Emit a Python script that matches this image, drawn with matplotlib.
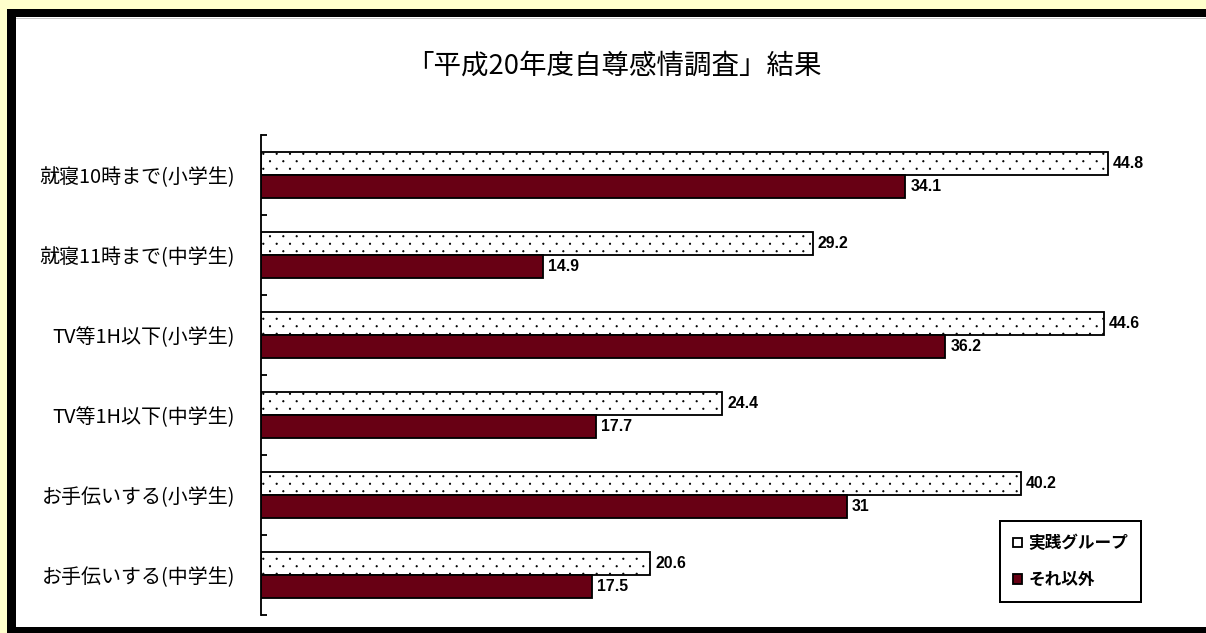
import matplotlib
matplotlib.use("Agg")
import matplotlib.pyplot as plt
import matplotlib.hatch as mhatch
from matplotlib.path import Path
from matplotlib.patches import Rectangle
import numpy as np

plt.rcParams['font.family'] = ['Noto Sans CJK JP', 'DejaVu Sans']
plt.rcParams['hatch.linewidth'] = 0.5

title = "「平成20年度自尊感情調査」結果"
categories = ["就寝10時まで(小学生)", "就寝11時まで(中学生)", "TV等1H以下(小学生)",
              "TV等1H以下(中学生)", "お手伝いする(小学生)", "お手伝いする(中学生)"]
series_names = ["実践グループ", "それ以外"]
practice = [44.8, 29.2, 44.6, 24.4, 40.2, 20.6]
others = [34.1, 14.9, 36.2, 17.7, 31, 17.5]


# staggered dot pattern (Excel-like "dotted" fill) used for the '.' hatch
class StaggeredDots(mhatch.HatchPatternBase):
    NCOLS, NROWS, R = 9, 16, 0.0055

    def __init__(self, hatch, density):
        on = '.' in hatch
        circ = Path.unit_circle()
        self.cv = circ.vertices * self.R
        self.cc = circ.codes
        self.centers = [((c + 0.25 + 0.5 * (r % 2)) / self.NCOLS, (r + 0.5) / self.NROWS)
                        for r in range(self.NROWS) for c in range(self.NCOLS)]
        self.num_vertices = len(self.centers) * len(self.cv) if on else 0

    def set_vertices_and_codes(self, vertices, codes):
        n = len(self.cv)
        for i, (x, yy) in enumerate(self.centers):
            vertices[i * n:(i + 1) * n] = self.cv + (x, yy)
            codes[i * n:(i + 1) * n] = self.cc


mhatch._hatch_types = [StaggeredDots if t is mhatch.SmallFilledCircles else t
                       for t in mhatch._hatch_types]

DPI = 120
W, H = 1206, 633
fig = plt.figure(figsize=(W / DPI, H / DPI), dpi=DPI, facecolor='#FFFFCC')

# frame: black borders + white interior
fig.patches.append(Rectangle((7 / W, 0), 1, 1 - 9 / H, transform=fig.transFigure,
                             facecolor='black', edgecolor='none', zorder=-3))
fig.patches.append(Rectangle((16 / W, 6 / H), 1, 1 - 6 / H - 17 / H, transform=fig.transFigure,
                             facecolor='white', edgecolor='none', zorder=-2))
fig.patches.append(Rectangle((16 / W, 1 - 19 / H), 1, 1 / H, transform=fig.transFigure,
                             facecolor='#C8C8C8', edgecolor='none', zorder=-1))

ax_left, ax_w = 261 / W, 45 * 18.9 / W
ax_bottom, ax_h = 18 / H, 480 / H
ax = fig.add_axes([ax_left, ax_bottom, ax_w, ax_h])
ax.set_facecolor('none')

y = np.arange(len(categories))
bh = 0.29
c1 = ax.barh(y - bh / 2, practice, height=bh, color='white', edgecolor='black',
             linewidth=1.1, hatch='.', label=series_names[0])
c2 = ax.barh(y + bh / 2, others, height=bh, color='#680014', edgecolor='black',
             linewidth=1.1, label=series_names[1])

ax.bar_label(c1, labels=[f"{v:g}" for v in practice], padding=3,
             fontsize=9.5, fontweight='bold', family='Liberation Sans')
ax.bar_label(c2, labels=[f"{v:g}" for v in others], padding=3,
             fontsize=9.5, fontweight='bold', family='Liberation Sans')

ax.set_xlim(0, 45)
ax.set_ylim(len(categories) - 0.5, -0.5)
for s in ['top', 'right', 'bottom']:
    ax.spines[s].set_visible(False)
ax.spines['left'].set_linewidth(1.1)
ax.set_xticks([])
ax.set_yticks(np.arange(-0.5, len(categories), 1.0))
ax.set_yticklabels([])
ax.tick_params(axis='y', which='major', direction='in', length=3.5, width=1.1)
ax.set_yticks(y, minor=True)
ax.set_yticklabels(categories, minor=True, fontsize=12)
ax.tick_params(axis='y', which='minor', length=0, pad=15.5)

fig.text(614 / W, 1 - 66 / H, title, ha='center', va='center', fontsize=16.5)

leg = fig.legend(handles=[c1, c2], labels=series_names,
                 loc='upper left', bbox_to_anchor=(1000 / W, 1 - 521 / H),
                 frameon=True, fancybox=False, edgecolor='black', framealpha=1,
                 handlelength=0.5, handleheight=0.5, handletextpad=0.4,
                 labelspacing=1.1, borderpad=0.8, borderaxespad=0,
                 prop={'size': 10, 'weight': 'bold'})
leg.get_frame().set_linewidth(1.2)

fig.savefig("out.png", dpi=DPI, facecolor=fig.get_facecolor())
